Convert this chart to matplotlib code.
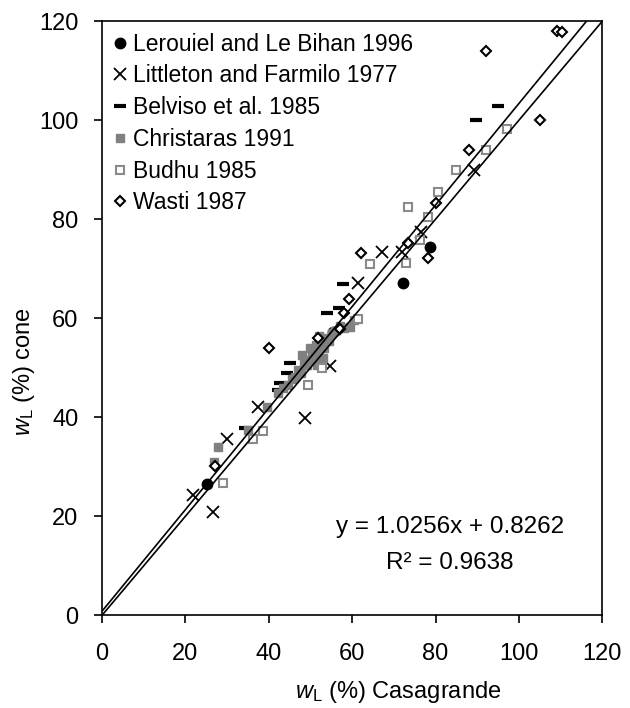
import numpy as np
import matplotlib
matplotlib.use('Agg')
import matplotlib.pyplot as plt

plt.rcParams['font.family'] = ['Liberation Sans', 'DejaVu Sans']
plt.rcParams['mathtext.fontset'] = 'custom'
plt.rcParams['mathtext.rm'] = 'Liberation Sans'
plt.rcParams['mathtext.it'] = 'Liberation Sans:italic'

# liquid limit, Casagrande (x) vs fall cone (y)
lerouiel_x = [25.1, 55.3, 72.1, 78.6]
lerouiel_y = [26.5, 57.2, 67.1, 74.3]

littleton_x = [21.8, 26.5, 29.9, 37.4, 48.6, 54.7, 61.3, 67.1, 71.9, 76.6, 89.3]
littleton_y = [24.2, 20.9, 35.7, 42.0, 39.9, 50.3, 67.1, 73.3, 73.3, 77.4, 89.9]

belviso_x = [34.3, 42.2, 42.6, 44.3, 45.0, 53.9, 56.8, 57.7, 89.8, 95.1]
belviso_y = [37.9, 45.5, 47.0, 49.0, 50.9, 61.0, 62.0, 67.0, 100.0, 102.8]

christaras_x = [26.8, 27.8, 35.0, 39.5, 42.2, 43.4, 44.5, 45.5, 46.2, 47.0, 47.8,
                48.5, 49.2, 49.8, 50.3, 50.8, 51.3, 51.8, 52.2, 52.7, 53.2, 53.8,
                54.5, 55.2, 56.0, 57.0, 58.0, 59.4, 60.5, 50.0, 51.5, 53.0, 48.0, 52.0]
christaras_y = [30.9, 34.0, 37.4, 42.0, 44.8, 46.0, 46.5, 47.8, 48.1, 49.5, 49.0,
                51.0, 50.5, 51.5, 53.0, 52.0, 54.5, 53.0, 53.9, 55.5, 54.0, 56.0,
                55.5, 57.0, 57.5, 58.5, 58.0, 58.2, 59.6, 54.0, 50.5, 52.0, 52.5, 56.5]

budhu_x = [28.9, 36.2, 38.6, 49.5, 52.7, 61.5, 64.2, 73.0, 73.3, 76.2, 78.3,
           80.5, 85.0, 92.2, 97.2]
budhu_y = [26.7, 35.6, 37.2, 46.5, 49.9, 59.9, 70.9, 71.1, 82.4, 75.8, 80.4,
           85.5, 89.9, 93.9, 98.2]

wasti_x = [27.1, 40.1, 51.9, 57.1, 58.0, 59.2, 62.0, 73.3, 78.1, 80.2, 88.1,
           92.2, 105.1, 109.2, 110.4]
wasti_y = [30.1, 54.0, 56.1, 57.9, 61.1, 63.9, 73.1, 75.1, 72.1, 83.2, 93.9,
           113.9, 100.0, 118.0, 117.8]

slope = 1.0256
intercept = 0.8262
r2 = 0.9638

fig = plt.figure(figsize=(6.3, 7.08), dpi=100)
ax = fig.add_axes([0.162, 0.131, 0.794, 0.839])

ax.plot(lerouiel_x, lerouiel_y, 'o', color='black', ms=7.5, ls='none',
        label='Lerouiel and Le Bihan 1996')
ax.plot(littleton_x, littleton_y, 'x', color='black', ms=9, mew=1.3, ls='none',
        label='Littleton and Farmilo 1977')
ax.plot(belviso_x, belviso_y, '_', color='black', ms=8, mew=3, ls='none',
        label='Belviso et al. 1985')
ax.plot(christaras_x, christaras_y, 's', color='#808080', ms=6, ls='none',
        label='Christaras 1991')
ax.plot(budhu_x, budhu_y, 's', mfc='white', mec='#8a8a8a', mew=1.5, ms=6, ls='none',
        label='Budhu 1985')
ax.plot(wasti_x, wasti_y, 'D', mfc='white', mec='black', mew=1.5, ms=5, ls='none',
        label='Wasti 1987')

# 1:1 line and linear fit
ax.plot([0, 120], [0, 120], color='black', lw=1.2, zorder=3)
fx = np.array([0, (120 - intercept) / slope])
ax.plot(fx, slope * fx + intercept, color='black', lw=1.2, zorder=3)

ax.text(83.5, 17.8, f'y = {slope}x + {intercept}', fontsize=17.5, ha='center', va='center')
ax.text(83.5, 10.5, f'R² = {r2}', fontsize=17.5, ha='center', va='center')

ax.set_xlim(0, 120)
ax.set_ylim(0, 120)
ax.set_xticks(np.arange(0, 121, 20))
ax.set_yticks(np.arange(0, 121, 20))
ax.tick_params(labelsize=17, length=6, width=1.2, direction='out')
ax.tick_params(axis='x', pad=14)
ax.tick_params(axis='y', pad=11)
for s in ax.spines.values():
    s.set_linewidth(1.2)

ax.set_xlabel(r'$w_\mathrm{L}$ (%) Casagrande', fontsize=17)
ax.xaxis.set_label_coords(0.592, -0.108)
ax.set_ylabel(r'$w_\mathrm{L}$ (%) cone', fontsize=17)
ax.yaxis.set_label_coords(-0.13, 0.41)

ax.legend(loc='upper left', frameon=False, fontsize=16.5, handlelength=0.6,
          handletextpad=0.25, labelspacing=0.38, borderaxespad=0.3, borderpad=0.2)

fig.savefig('out.png', dpi=100)
